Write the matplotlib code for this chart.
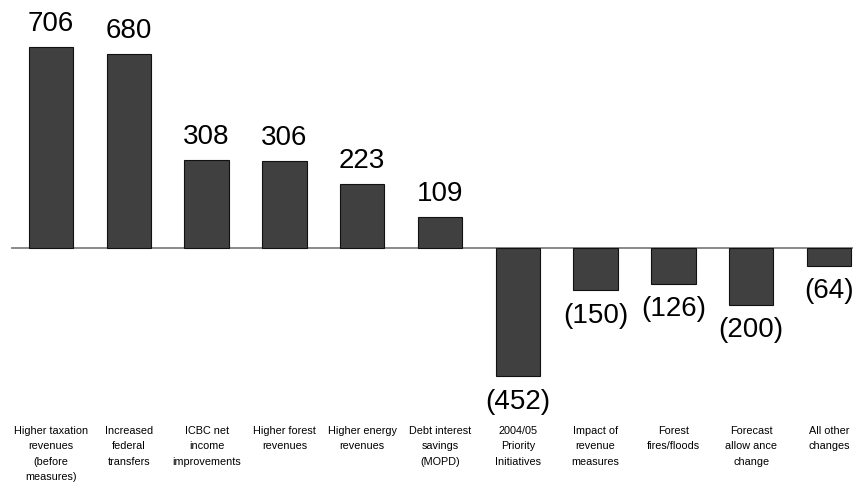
import numpy as np
import matplotlib.pyplot as plt

plt.rcParams['font.family'] = ['Liberation Sans', 'DejaVu Sans']

# Datos del gráfico
categorias = ["Higher taxation\nrevenues\n(before\nmeasures)",
              "Increased\nfederal\ntransfers",
              "ICBC net\nincome\nimprovements",
              "Higher forest\nrevenues",
              "Higher energy\nrevenues",
              "Debt interest\nsavings\n(MOPD)",
              "2004/05\nPriority\nInitiatives",
              "Impact of\nrevenue\nmeasures",
              "Forest\nfires/floods",
              "Forecast\nallow ance\nchange",
              "All other\nchanges"]
valores = [706, 680, 308, 306, 223, 109, -452, -150, -126, -200, -64]

fig = plt.figure(figsize=(8.54, 4.87), dpi=100)
ax = fig.add_axes([0, 0, 1, 1])

x = np.arange(len(valores))
ax.bar(x, valores, width=0.57, color='#404040', edgecolor='#111111', linewidth=0.8, zorder=2)

# Línea del cero en gris
ax.axhline(0, xmin=12 / 854, xmax=1, color='#808080', linewidth=1.3, zorder=1)

ax.set_xlim(-0.6555, 10.321)
ax.set_ylim(-840.5, 870)
ax.axis('off')

# Etiquetas de valores
for xi, v in zip(x, valores):
    if v >= 0:
        ax.annotate(f"{v}", (xi, v), xytext=(0, 7), textcoords='offset points',
                    ha='center', va='bottom', fontsize=20)
    else:
        ax.annotate(f"({abs(v)})", (xi, v), xytext=(0, -9), textcoords='offset points',
                    ha='center', va='top', fontsize=20)

# Etiquetas de categorías
trans = ax.get_xaxis_transform()
for xi, c in zip(x, categorias):
    ax.text(xi, 0.125, c, transform=trans, ha='center', va='top',
            fontsize=7.8, linespacing=1.65)

plt.savefig('out.png', dpi=100)
